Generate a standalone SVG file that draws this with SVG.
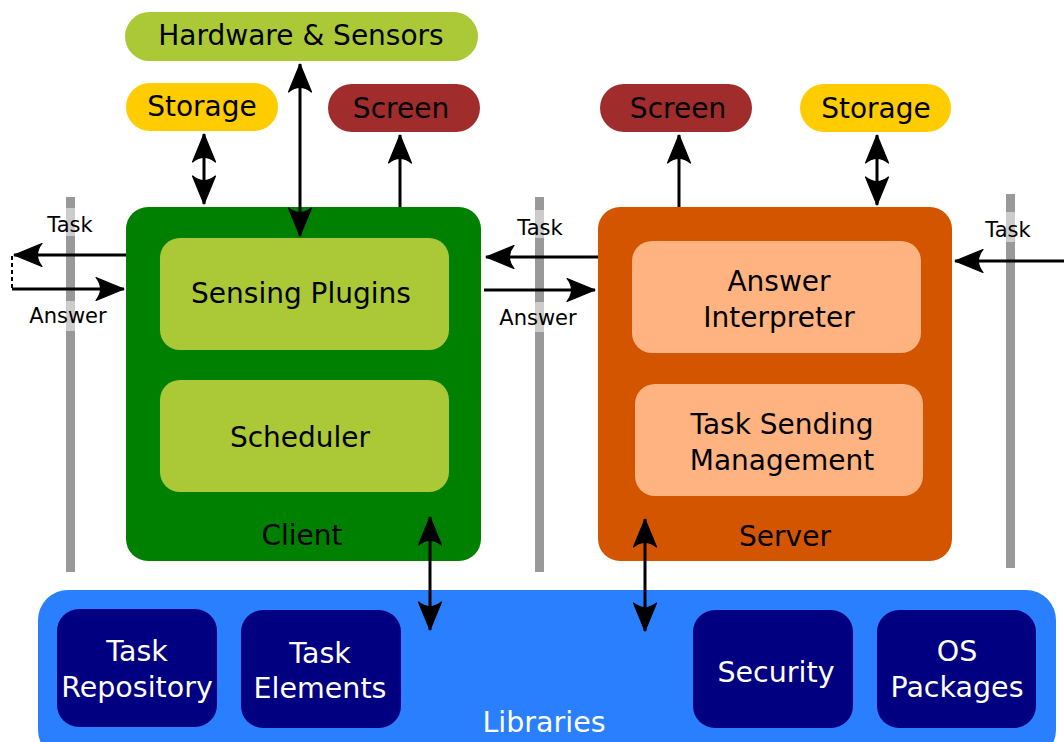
<svg xmlns="http://www.w3.org/2000/svg" width="1064" height="742" viewBox="0 0 1064 742">
<style>
text{font-family:"DejaVu Sans","Liberation Sans",sans-serif;text-anchor:middle}
.big{font-size:28px;fill:#000}
.lib{font-size:28.5px;fill:#fff}
.sm{font-size:21px;fill:#000}
.bar{fill:#999}
.barl{fill:#ccc}
.c{stroke:#000;stroke-width:3;fill:none}
</style>
<defs>
<marker id="ah" markerUnits="userSpaceOnUse" refX="0" refY="0" markerWidth="40" markerHeight="40" overflow="visible" orient="auto-start-reverse">
<path d="M0,0 L-28,-11.5 C-22,-4 -22,4 -28,11.5 Z" fill="#000" stroke="#000" stroke-width="1.2" stroke-linejoin="round"/>
</marker>
</defs>
<g id="bars">
<rect class="bar" x="66" y="197" width="9" height="375"/>
<rect class="barl" x="66" y="208" width="9" height="28"/>
<rect class="barl" x="66" y="301" width="9" height="30"/>
<rect class="bar" x="535" y="197" width="9" height="375"/>
<rect class="barl" x="535" y="210" width="9" height="28"/>
<rect class="barl" x="535" y="302" width="9" height="30"/>
<rect class="bar" x="1006" y="194" width="9" height="374"/>
<rect class="barl" x="1006" y="212" width="9" height="30"/>
</g>
<g id="hardware"><rect x="125" y="12" width="353" height="49" rx="24.5" fill="#abc837"/><text class="big" x="301" y="45">Hardware &amp; Sensors</text></g>
<g id="storage-left"><rect x="126" y="83" width="152" height="48" rx="24" fill="#ffcc00"/><text class="big" x="202" y="116">Storage</text></g>
<g id="screen-left"><rect x="328" y="84" width="152" height="48" rx="24" fill="#a02c2c"/><text class="big" x="401" y="118">Screen</text></g>
<g id="screen-right"><rect x="600" y="84" width="152" height="48" rx="24" fill="#a02c2c"/><text class="big" x="678" y="118">Screen</text></g>
<g id="storage-right"><rect x="800" y="84" width="151" height="48" rx="24" fill="#ffcc00"/><text class="big" x="876" y="118">Storage</text></g>
<g id="client">
<rect x="126" y="207" width="355" height="354" rx="22" fill="#008000"/>
<text class="big" x="302" y="545">Client</text>
</g>
<g id="sensing-plugins"><rect x="160" y="238" width="289" height="112" rx="20" fill="#abc837"/><text class="big" x="301" y="303">Sensing Plugins</text></g>
<g id="scheduler"><rect x="160" y="380" width="289" height="112" rx="20" fill="#abc837"/><text class="big" x="300" y="447">Scheduler</text></g>
<g id="server">
<rect x="598" y="207" width="354" height="354" rx="22" fill="#d45500"/>
<text class="big" x="785" y="546">Server</text>
</g>
<g id="answer-interpreter"><rect x="632" y="241" width="289" height="112" rx="20" fill="#ffb380"/><text class="big" x="779" y="291">Answer</text><text class="big" x="779" y="327">Interpreter</text></g>
<g id="task-sending"><rect x="635" y="384" width="288" height="112" rx="20" fill="#ffb380"/><text class="big" x="782" y="434">Task Sending</text><text class="big" x="782" y="470">Management</text></g>
<g id="libraries">
<rect x="38" y="590" width="1018" height="170" rx="30" fill="#2a7fff"/>
<text class="lib" x="544" y="732">Libraries</text>
</g>
<g id="task-repository"><rect x="57" y="609" width="160" height="118" rx="22" fill="#000080"/><text class="lib" x="137" y="661">Task</text><text class="lib" x="137" y="697">Repository</text></g>
<g id="task-elements"><rect x="241" y="610" width="160" height="118" rx="22" fill="#000080"/><text class="lib" x="320" y="663">Task</text><text class="lib" x="320" y="698">Elements</text></g>
<g id="security"><rect x="693" y="610" width="160" height="118" rx="22" fill="#000080"/><text class="lib" x="776" y="682">Security</text></g>
<g id="os-packages"><rect x="877" y="610" width="159" height="118" rx="22" fill="#000080"/><text class="lib" x="957" y="661">OS</text><text class="lib" x="957" y="697">Packages</text></g>
<g id="labels">
<text class="sm" x="70" y="232">Task</text>
<text class="sm" x="68" y="323">Answer</text>
<text class="sm" x="540" y="235">Task</text>
<text class="sm" x="538" y="325">Answer</text>
<text class="sm" x="1008" y="237">Task</text>
</g>
<g id="connectors">
<path class="c" d="M126,255 H14" marker-end="url(#ah)"/>
<path class="c" d="M12,289 H124" marker-end="url(#ah)"/>
<path d="M12,256 V288" stroke="#000" stroke-width="2" stroke-dasharray="4,3" fill="none"/>
<path class="c" d="M598,257 H486" marker-end="url(#ah)"/>
<path class="c" d="M484,290 H595" marker-end="url(#ah)"/>
<path class="c" d="M1064,261 H955" marker-end="url(#ah)"/>
<path class="c" d="M204,134 V204" marker-start="url(#ah)" marker-end="url(#ah)"/>
<path class="c" d="M300,64 V236" marker-start="url(#ah)" marker-end="url(#ah)"/>
<path class="c" d="M400,207 V135" marker-end="url(#ah)"/>
<path class="c" d="M679,207 V135" marker-end="url(#ah)"/>
<path class="c" d="M877,135 V205" marker-start="url(#ah)" marker-end="url(#ah)"/>
<path class="c" d="M430,517 V630" marker-start="url(#ah)" marker-end="url(#ah)"/>
<path class="c" d="M645,519 V631" marker-start="url(#ah)" marker-end="url(#ah)"/>
</g>
</svg>
